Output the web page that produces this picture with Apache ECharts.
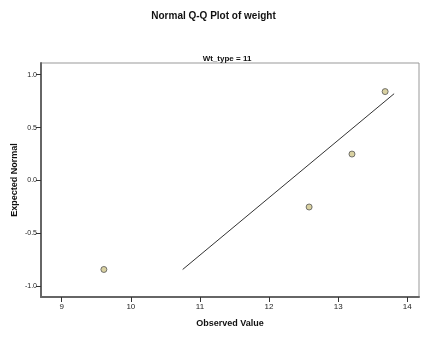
<!DOCTYPE html>
<html><head><meta charset="utf-8">
<script src="https://cdn.jsdelivr.net/npm/echarts@6/dist/echarts.min.js"></script>
<style>html,body{margin:0;padding:0;background:#fff}#c{width:427px;height:341px}</style>
</head><body><div id="c"></div>
<script>
var observed = [9.61, 12.58, 13.2, 13.68];
var expected = [-0.84, -0.25, 0.25, 0.84];
var lineX = [10.75, 13.81];
var lineY = [-0.84, 0.82];
var xTicks = [9, 10, 11, 12, 13, 14];
var yTicks = [-1.0, -0.5, 0.0, 0.5, 1.0];

var pts = observed.map(function(v, i){ return [v, expected[i]]; });
var ln = lineX.map(function(v, i){ return [v, lineY[i]]; });
var font = 'Liberation Sans, Arial, sans-serif';
var chart = echarts.init(document.getElementById('c'));
chart.setOption({
  animation: false,
  title: [
    {text: 'Normal Q-Q Plot of weight', left: 'center', top: 6,
     textStyle: {fontSize: 10, fontWeight: 'bold', color: '#111', fontFamily: font}},
    {text: 'Wt_type = 11', left: 222, top: 50, textAlign: 'center',
     textStyle: {fontSize: 8, fontWeight: 'bold', color: '#111', fontFamily: font}}
  ],
  grid: {left: 41, right: 8, top: 63, bottom: 44, show: true, borderColor: '#999', borderWidth: 1,
         backgroundColor: '#fff', outerBoundsMode: 'none', containLabel: false},
  xAxis: {
    type: 'value', min: 8.7, max: 14.17,
    name: 'Observed Value', nameLocation: 'middle', nameGap: 22, nameMoveOverlap: false,
    nameTextStyle: {fontSize: 9, fontWeight: 'bold', color: '#111', fontFamily: font},
    axisLine: {show: true, onZero: false, lineStyle: {color: '#666', width: 2}},
    axisTick: {show: true, length: 5, lineStyle: {color: '#333'}, customValues: xTicks},
    axisLabel: {fontSize: 8, color: '#222', fontFamily: font, margin: 6, customValues: xTicks,
      formatter: function(v){ return String(v); }},
    splitLine: {show: false}
  },
  yAxis: {
    type: 'value', min: -1.1, max: 1.11,
    name: 'Expected Normal', nameLocation: 'middle', nameGap: 22, nameRotate: 90, nameMoveOverlap: false,
    nameTextStyle: {fontSize: 9, fontWeight: 'bold', color: '#111', fontFamily: font},
    axisLine: {show: true, onZero: false, lineStyle: {color: '#666', width: 2}},
    axisTick: {show: true, length: 5, lineStyle: {color: '#333'}, customValues: yTicks},
    axisLabel: {fontSize: 7, color: '#222', fontFamily: font, margin: 4, customValues: yTicks,
      formatter: function(v){ return v.toFixed(1); }},
    splitLine: {show: false}
  },
  series: [
    {type: 'line', data: ln, symbol: 'none', lineStyle: {color: '#333', width: 1}, z: 2},
    {type: 'scatter', data: pts, symbol: 'circle', symbolSize: 6,
     itemStyle: {color: '#cfc68a', borderColor: '#555', borderWidth: 1}, z: 3}
  ]
});
</script></body></html>
